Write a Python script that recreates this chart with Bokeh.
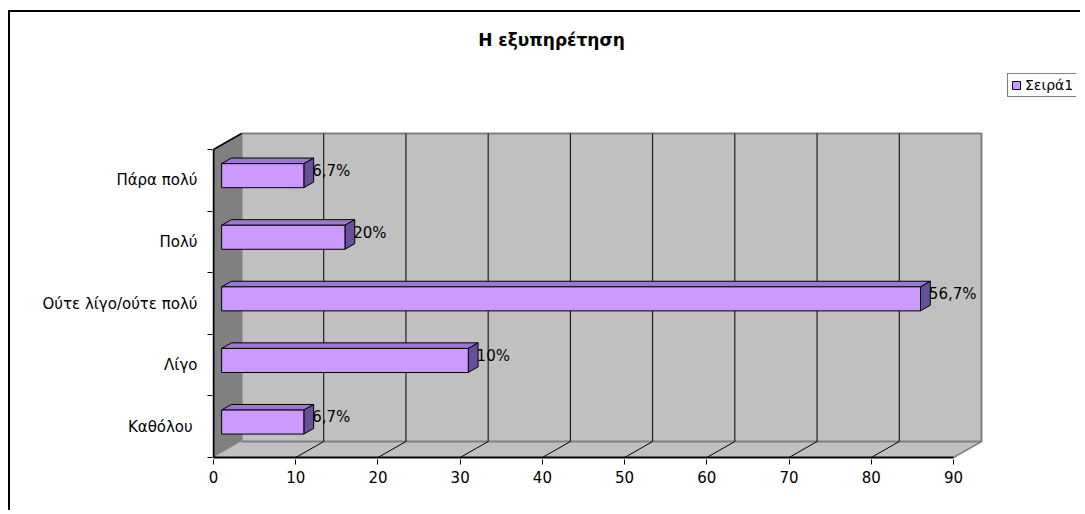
from bokeh.plotting import figure
from bokeh.models import FixedTicker, ColumnDataSource, Legend, LegendItem
from bokeh.core.properties import value
from bokeh.embed import file_html
from bokeh.resources import INLINE

# ---------------- data ----------------
categories = ["Καθόλου ", "Λίγο", "Ούτε λίγο/ούτε πολύ", "Πολύ", "Πάρα πολύ"]
values = [10, 30, 85, 15, 10]
data_labels = ["6,7%", "10%", "56,7%", "20%", "6,7%"]
x_ticks = [0, 10, 20, 30, 40, 50, 60, 70, 80, 90]
title_text = "Η εξυπηρέτηση"
series_name = "Σειρά1"

# ---------------- layout constants ----------------
W, H = 1072, 500
RIGHT_PAD = 6
PX_X = 740 / 90.0          # pixels per value unit
PX_Y = 61.6                # pixels per category
ORIGIN_X, ORIGIN_Y = 203, 445   # canvas px of (0, 0) on the front plane
FRAME_LEFT, FRAME_BOTTOM = 202, 447
DX = 28 / PX_X             # depth offset (data units)
DY = 16 / PX_Y
F1, F2 = 0.29, 0.64        # bar depth fractions
BAR_H = 0.39
XMAX = x_ticks[-1]
NCAT = len(categories)

FONT = "DejaVu Sans"

x_start = -(ORIGIN_X - FRAME_LEFT) / PX_X
x_end = x_start + (W - FRAME_LEFT - RIGHT_PAD) / PX_X
y_start = -(FRAME_BOTTOM - ORIGIN_Y) / PX_Y
y_end = y_start + FRAME_BOTTOM / PX_Y

p = figure(width=W, height=H, x_range=(x_start, x_end), y_range=(y_start, y_end),
           output_backend="svg", toolbar_location=None, title=None,
           min_border_left=FRAME_LEFT, min_border_right=RIGHT_PAD, min_border_top=0,
           min_border_bottom=H - FRAME_BOTTOM)
p.styles = {"margin-top": "12px", "margin-left": "10px", "border": "none",
            "box-shadow": "-2px -2px 0px 0px black"}
p.background_fill_color = "white"
p.border_fill_color = "white"
p.outline_line_color = None
p.xgrid.visible = False
p.ygrid.visible = False

# ---------------- 3D walls ----------------
p.patch([0, DX, DX, 0], [0, DY, NCAT + DY, NCAT], fill_color="#808080", line_color=None)
p.patch([0, XMAX, XMAX + DX, DX], [0, 0, DY, DY], fill_color="#C0C0C0", line_color=None)
p.quad(left=DX, right=XMAX + DX, bottom=DY, top=NCAT + DY,
       fill_color="#C0C0C0", line_color="#808080", line_width=2)
p.line([XMAX, XMAX + DX], [0, DY], line_color="#808080", line_width=1.5)
p.line([0, DX], [0, DY], line_color="#B0B0B0", line_width=1, line_dash="1 1")

grid_vals = x_ticks[1:-1]
p.segment(x0=[t + DX for t in grid_vals], y0=[DY] * len(grid_vals),
          x1=[t + DX for t in grid_vals], y1=[NCAT + DY] * len(grid_vals),
          line_color="black", line_width=1)
p.segment(x0=grid_vals, y0=[0] * len(grid_vals),
          x1=[t + DX for t in grid_vals], y1=[DY] * len(grid_vals),
          line_color="black", line_width=1)
p.line([0, DX], [NCAT, NCAT + DY], line_color="black", line_width=1.5)
p.line([0, XMAX], [0, 0], line_color="black", line_width=2)
p.line([0, 0], [0, NCAT], line_color="black", line_width=2)

# ---------------- bars ----------------
idx = list(range(NCAT))
L = [F1 * DX for _ in values]
R = [v + F1 * DX for v in values]
B = [i + 0.5 - BAR_H / 2 + F1 * DY for i in idx]
T = [b + BAR_H for b in B]
ddx = (F2 - F1) * DX
ddy = (F2 - F1) * DY

top_xs = [[l, r, r + ddx, l + ddx] for l, r in zip(L, R)]
top_ys = [[t, t, t + ddy, t + ddy] for t in T]
side_xs = [[r, r + ddx, r + ddx, r] for r in R]
side_ys = [[b, b + ddy, t + ddy, t] for b, t in zip(B, T)]

p.patches(top_xs, top_ys, fill_color="#9B77CF", line_color="black", line_width=1)
p.patches(side_xs, side_ys, fill_color="#67509A", line_color="black", line_width=1)
front = p.quad(left=L, right=R, bottom=B, top=T, fill_color="#CC99FF",
               line_color="black", line_width=1)

lab_src = ColumnDataSource(dict(x=[v + 2.0 for v in values],
                                y=[i + 0.65 for i in idx], text=data_labels))
p.text(x="x", y="y", text="text", source=lab_src, text_font=value(FONT),
       text_font_size="15px", text_color="black", text_align="left",
       text_baseline="middle")

# ---------------- title ----------------
p.text(x=[(541 - ORIGIN_X) / PX_X], y=[(ORIGIN_Y - 27) / PX_Y], text=[title_text],
       text_font=value(FONT), text_font_size="17px", text_font_style="bold",
       text_color="black", text_align="center", text_baseline="middle")

# ---------------- axes ----------------
xa = p.xaxis[0]
xa.ticker = FixedTicker(ticks=x_ticks)
xa.axis_line_color = None
xa.major_tick_out = 5
xa.major_tick_in = 0
xa.major_tick_line_color = "black"
xa.minor_tick_line_color = None
xa.major_label_standoff = 6
xa.major_label_text_font = FONT
xa.major_label_text_font_size = "15px"
xa.major_label_text_color = "black"

ya = p.yaxis[0]
centers = [i + 0.5 for i in idx]
ya.ticker = FixedTicker(ticks=centers, minor_ticks=list(range(NCAT + 1)))
ya.major_label_overrides = {c: cat for c, cat in zip(centers, categories)}
ya.axis_line_color = None
ya.major_tick_out = 0
ya.major_tick_in = 0
ya.minor_tick_out = 5
ya.minor_tick_in = 0
ya.minor_tick_line_color = "black"
ya.major_label_standoff = 10
ya.major_label_text_font = FONT
ya.major_label_text_font_size = "15px"
ya.major_label_text_color = "black"

# ---------------- legend ----------------
legend = Legend(items=[LegendItem(label=series_name, renderers=[front])],
                location=(1007 - 212, 459 - 97))
legend.border_line_color = "black"
legend.border_line_width = 1
legend.background_fill_color = "white"
legend.background_fill_alpha = 1
legend.padding = 3
legend.margin = 0
legend.spacing = 0
legend.glyph_width = 10
legend.glyph_height = 10
legend.label_standoff = 4
legend.label_height = 12
legend.label_text_font = FONT
legend.label_text_font_size = "14px"
legend.label_text_color = "black"
p.add_layout(legend)

open("out.html", "w").write(file_html(p, INLINE))
